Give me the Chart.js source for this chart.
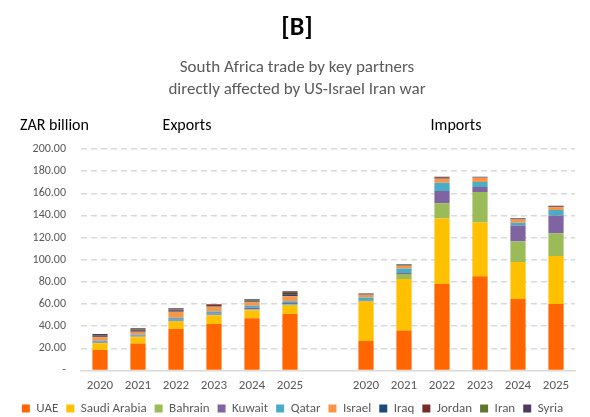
<!DOCTYPE html>
<html>
<head>
<meta charset="utf-8">
<script src="https://cdn.jsdelivr.net/npm/chart.js@4.4.0/dist/chart.umd.min.js"></script>
<style>
  html, body { margin: 0; padding: 0; background: #fff; }
  #wrap { width: 590px; height: 417px; position: relative; }
</style>
</head>
<body>
<div id="wrap"><canvas id="chart-trade" width="590" height="417"></canvas></div>
<script>
// 6 export years, one empty gap slot, 6 import years
var years = ['2020', '2021', '2022', '2023', '2024', '2025'];
var labels = years.concat(['']).concat(years);

// ZAR billion, exports then imports
var uaeExp    = [18.5, 24.4, 37.5, 42.0, 47.0, 51.0];
var uaeImp    = [26.5, 36.0, 78.0, 85.0, 64.5, 60.0];
var saudiExp  = [6.0, 5.5, 6.5, 7.5, 7.0, 7.5];
var saudiImp  = [35.5, 46.5, 59.3, 48.6, 33.5, 43.4];
var bahrainExp = [0.5, 0.8, 0.8, 0.8, 1.0, 1.0];
var bahrainImp = [1.0, 4.5, 13.8, 27.5, 18.5, 20.5];
var kuwaitExp = [1.0, 0.8, 1.2, 1.2, 1.5, 1.4];
var kuwaitImp = [0.5, 1.0, 11.0, 4.5, 14.5, 16.0];
var qatarExp  = [1.0, 1.0, 1.5, 1.6, 2.0, 1.5];
var qatarImp  = [2.3, 4.0, 7.5, 4.5, 2.4, 5.0];
var israelExp = [3.0, 2.5, 5.5, 4.3, 3.0, 4.5];
var israelImp = [2.5, 2.5, 3.6, 3.9, 3.0, 2.4];
var iraqExp   = [0.5, 0.8, 0.8, 0.6, 0.8, 1.5];
var iraqImp   = [0.4, 0.5, 0.3, 0.2, 0.3, 0.3];
var jordanExp = [0.5, 1.0, 1.0, 1.5, 0.7, 1.5];
var jordanImp = [0.5, 0.5, 1.0, 0.4, 0.5, 0.6];
var iranExp   = [0.3, 0.5, 0.5, 0.2, 0.8, 1.0];
var iranImp   = [0.2, 0.3, 0.3, 0.2, 0.2, 0.3];
var syriaExp  = [1.5, 0.7, 0.8, 0.3, 0.7, 0.6];
var syriaImp  = [0.3, 0.4, 0.2, 0.2, 0.2, 0.3];

var yTicks = [0, 20, 40, 60, 80, 100, 120, 140, 160, 180, 200];

var FONT = 'Carlito, Calibri, Lato, sans-serif';
var GREY = '#595959';

function join(exp, imp) { return exp.concat([null]).concat(imp); }

var partners = [
  ['UAE', uaeExp, uaeImp, '#FF6600'],
  ['Saudi Arabia', saudiExp, saudiImp, '#FFC000'],
  ['Bahrain', bahrainExp, bahrainImp, '#9BBB59'],
  ['Kuwait', kuwaitExp, kuwaitImp, '#8064A2'],
  ['Qatar', qatarExp, qatarImp, '#4BACC6'],
  ['Israel', israelExp, israelImp, '#F79646'],
  ['Iraq', iraqExp, iraqImp, '#1F497D'],
  ['Jordan', jordanExp, jordanImp, '#772C2A'],
  ['Iran', iranExp, iranImp, '#5F7530'],
  ['Syria', syriaExp, syriaImp, '#4D3B62']
];

var datasets = partners.map(function (p) {
  return {
    label: p[0],
    data: join(p[1], p[2]),
    backgroundColor: p[3],
    borderColor: p[3],
    borderWidth: 0,
    categoryPercentage: 1.0,
    barPercentage: 0.4
  };
});

// headings drawn on the canvas
var headings = {
  id: 'headings',
  afterDraw: function (chart) {
    var ctx = chart.ctx;
    ctx.save();
    ctx.textBaseline = 'middle';
    ctx.textAlign = 'center';
    ctx.fillStyle = '#000';
    ctx.font = 'bold 26px ' + FONT;
    ctx.fillText('[B]', 297, 28);
    ctx.fillStyle = GREY;
    ctx.font = '17px ' + FONT;
    ctx.fillText('South Africa trade by key partners', 297, 68);
    ctx.fillText('directly affected by US-Israel Iran war', 297, 90);
    ctx.fillStyle = '#000';
    ctx.font = '16px ' + FONT;
    ctx.textAlign = 'left';
    ctx.fillText('ZAR billion', 20, 126);
    ctx.textAlign = 'center';
    ctx.fillText('Exports', 187, 126);
    ctx.fillText('Imports', 456, 126);
    ctx.restore();
  }
};

new Chart(document.getElementById('chart-trade'), {
  type: 'bar',
  data: { labels: labels, datasets: datasets },
  options: {
    responsive: false,
    animation: false,
    layout: { padding: { top: 149, left: 10, right: 15, bottom: -8 } },
    plugins: {
      title: { display: false },
      tooltip: { enabled: false },
      legend: {
        position: 'bottom',
        labels: {
          boxWidth: 8,
          boxHeight: 8,
          padding: 8,
          color: GREY,
          font: { family: FONT, size: 13 }
        }
      }
    },
    scales: {
      x: {
        stacked: true,
        grid: { display: false, drawTicks: false },
        border: { color: '#d9d9d9', width: 1.5 },
        ticks: { color: GREY, padding: 8, font: { family: FONT, size: 13 }, maxRotation: 0 },
        afterFit: function (s) { s.height = s.height - 8; }
      },
      y: {
        stacked: true,
        min: 0,
        max: 200,
        afterBuildTicks: function (s) {
          s.ticks = yTicks.map(function (v) { return { value: v }; });
        },
        afterFit: function (s) { s.width = 71; },
        grid: {
          color: function (c) { return c.tick.value === 0 ? 'rgba(0,0,0,0)' : '#d9d9d9'; },
          lineWidth: 1.5,
          drawTicks: false
        },
        border: { display: false, dash: [6, 4] },
        ticks: {
          color: GREY,
          padding: 15,
          font: { family: FONT, size: 12 },
          callback: function (v) { return v === 0 ? '-' : v.toFixed(2); }
        }
      }
    }
  },
  plugins: [headings]
});
</script>
</body>
</html>
